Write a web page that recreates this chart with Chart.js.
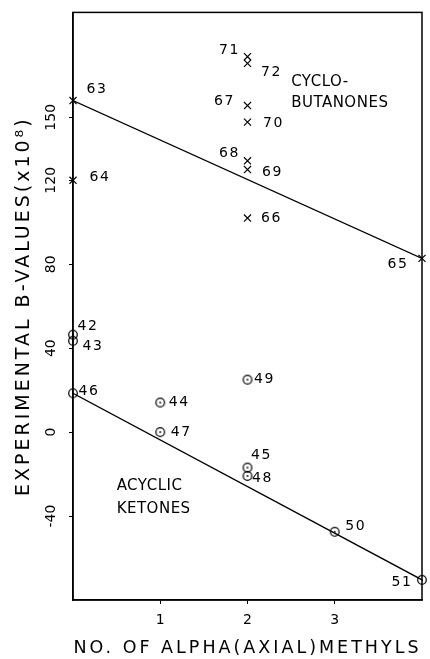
<!DOCTYPE html>
<html>
<head>
<meta charset="utf-8">
<script src="https://cdn.jsdelivr.net/npm/chart.js@4"></script>
<style>
  html, body { margin: 0; padding: 0; background: #fff; }
</style>
</head>
<body>
<canvas id="chart" width="430" height="659"></canvas>
<script>
// cyclobutanones (x marks)
var cycloIds = ['63', '64', '65', '66', '67', '68', '69', '70', '71', '72'];
var cycloX = [0, 0, 4, 2, 2, 2, 2, 2, 2, 2];
var cycloY = [158, 120, 82.8, 102, 155.6, 129.3, 125.1, 147.7, 178.9, 175.7];
var cycloLineX = [0, 4];
var cycloLineY = [158, 82.8];

// acyclic ketones (circles)
var acycIds = ['42', '43', '44', '45', '46', '47', '48', '49', '50', '51'];
var acycX = [0, 0, 1, 2, 0, 1, 2, 2, 3, 4];
var acycY = [46.4, 43.5, 14.1, -16.9, 18.5, 0, -20.9, 25, -47.5, -70.4];
var acycLineX = [0, 4];
var acycLineY = [18.5, -70.4];

// axis ticks
var xTicks = [1, 2, 3];
var yTicks = [-40, 0, 40, 80, 120, 150];

var xTitle = 'NO. OF ALPHA(AXIAL)METHYLS';
var yTitle = 'EXPERIMENTAL B-VALUES(x10\u2078)';

// where each number sits next to its point (px)
var labelOffset = {
  '63': [24, -11], '64': [27, -3], '65': [-24, 6], '66': [24, 0], '67': [-23, -4],
  '68': [-18, -7], '69': [25, 3], '70': [26, 1], '71': [-18, -6], '72': [24, 9],
  '42': [15, -8], '43': [20, 6], '44': [19, 0], '45': [14, -12], '46': [16, -2],
  '47': [21, 0], '48': [15, 2], '49': [17, 0], '50': [21, -5], '51': [-20, 3]
};

// group names, left edge at data coords
var notes = [
  { text: 'CYCLO-', x: 2.5, y: 167 },
  { text: 'BUTANONES', x: 2.5, y: 157 },
  { text: 'ACYCLIC', x: 0.5, y: -25.8 },
  { text: 'KETONES', x: 0.5, y: -36.8 }
];

function toPoints(xs, ys) {
    return xs.map((x, i) => ({ x: x, y: ys[i] }));
}

// small circle with a dot in the middle
function ringMark() {
    var c = document.createElement('canvas');
    c.width = 12; c.height = 12;
    var g = c.getContext('2d');
    g.strokeStyle = '#000';
    g.lineWidth = 1.2;
    g.beginPath(); g.arc(6, 6, 4.3, 0, Math.PI * 2); g.stroke();
    g.fillStyle = '#000';
    g.beginPath(); g.arc(6, 6, 0.9, 0, Math.PI * 2); g.fill();
    return c;
}

var textFont = '"DejaVu Sans", sans-serif';

// plotter-like wide spacing for the axis titles
// (tick labels have z: 1 so they are drawn later, without it)
var spacingPlugin = {
    id: 'spacing',
    beforeDraw(chart) { chart.ctx.letterSpacing = '3px'; },
    beforeDatasetsDraw(chart) { chart.ctx.letterSpacing = '0px'; }
};

var boxPlugin = {
    id: 'box',
    afterDraw(chart) {
        var ctx = chart.ctx, a = chart.chartArea;
        ctx.save();
        ctx.strokeStyle = '#000';
        ctx.lineWidth = 1.5;
        ctx.strokeRect(a.left, a.top, a.right - a.left, a.bottom - a.top);
        ctx.restore();
    }
};

var labelPlugin = {
    id: 'pointLabels',
    afterDatasetsDraw(chart) {
        var ctx = chart.ctx;
        var xs = chart.scales.x, ys = chart.scales.y;
        ctx.save();
        ctx.fillStyle = '#000';
        ctx.font = '14px ' + textFont;
        ctx.letterSpacing = '1.5px';
        ctx.textAlign = 'center';
        ctx.textBaseline = 'middle';
        var put = function(ids, px, py) {
            ids.forEach((id, i) => {
                var o = labelOffset[id];
                ctx.fillText(id, xs.getPixelForValue(px[i]) + o[0], ys.getPixelForValue(py[i]) + o[1]);
            });
        };
        put(cycloIds, cycloX, cycloY);
        put(acycIds, acycX, acycY);

        ctx.font = '15px ' + textFont;
        ctx.letterSpacing = '0.5px';
        ctx.textAlign = 'left';
        notes.forEach(n => {
            ctx.fillText(n.text, xs.getPixelForValue(n.x), ys.getPixelForValue(n.y));
        });
        ctx.restore();
    }
};

var ctx = document.getElementById('chart').getContext('2d');
var myChart = new Chart(ctx, {
    type: 'scatter',
    data: {
        datasets: [
            {
                label: 'cyclobutanones',
                data: toPoints(cycloX, cycloY),
                pointStyle: 'crossRot',
                pointRadius: 5,
                borderColor: '#000',
                borderWidth: 1.2,
                clip: false
            },
            {
                label: 'acyclic ketones',
                data: toPoints(acycX, acycY),
                pointStyle: ringMark(),
                clip: false
            },
            {
                type: 'line',
                label: 'cyclobutanones fit',
                data: toPoints(cycloLineX, cycloLineY),
                borderColor: '#000',
                borderWidth: 1.3,
                pointRadius: 0,
                fill: false
            },
            {
                type: 'line',
                label: 'acyclic fit',
                data: toPoints(acycLineX, acycLineY),
                borderColor: '#000',
                borderWidth: 1.3,
                pointRadius: 0,
                fill: false
            }
        ]
    },
    options: {
        responsive: false,
        animation: false,
        devicePixelRatio: 1,
        layout: { padding: { top: 10, right: 8, left: 13, bottom: 0 } },
        plugins: {
            legend: { display: false },
            tooltip: { enabled: false }
        },
        scales: {
            x: {
                type: 'linear',
                min: 0,
                max: 4,
                afterBuildTicks: s => { s.ticks = xTicks.map(v => ({ value: v })); },
                afterFit: s => { s.height = 59; },
                grid: { drawOnChartArea: false, tickLength: 4, color: '#000' },
                border: { color: '#000', width: 1.5 },
                ticks: { z: 1, color: '#000', padding: 8, font: { family: textFont, size: 14 } },
                title: {
                    display: true,
                    text: xTitle,
                    color: '#000',
                    padding: 0,
                    font: { family: textFont, size: 17.5 }
                }
            },
            y: {
                type: 'linear',
                min: -80,
                max: 200,
                afterBuildTicks: s => { s.ticks = yTicks.map(v => ({ value: v })); },
                afterFit: s => { s.width = 60; },
                grid: { drawOnChartArea: false, tickLength: 4, color: '#000' },
                border: { color: '#000', width: 1.5 },
                ticks: {
                    z: 1,
                    color: '#000',
                    padding: 4,
                    minRotation: 90,
                    maxRotation: 90,
                    crossAlign: 'center',
                    font: { family: textFont, size: 14 }
                },
                title: {
                    display: true,
                    text: yTitle,
                    color: '#000',
                    padding: 0,
                    font: { family: textFont, size: 19 }
                }
            }
        }
    },
    plugins: [spacingPlugin, boxPlugin, labelPlugin]
});
</script>
</body>
</html>
